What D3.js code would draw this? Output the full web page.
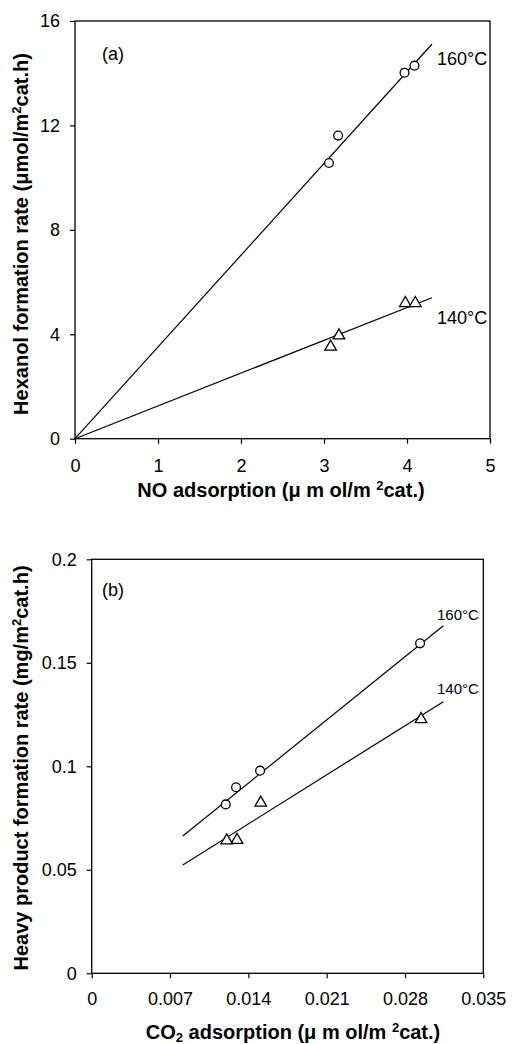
<!DOCTYPE html>
<html><head><meta charset="utf-8">
<script src="https://cdn.jsdelivr.net/npm/d3@7"></script>
<style>body{margin:0;background:#fff}svg{display:block}text{font-family:"Liberation Sans",Arial,sans-serif;fill:#000}</style>
</head><body><svg id="c" width="512" height="1044"></svg>
<script>
// Panel (a): NO adsorption vs hexanol formation rate
const aX160 = [3.06, 3.17, 3.97, 4.09];
const aY160 = [10.56, 11.61, 14.02, 14.29];
const aX140 = [3.08, 3.18, 3.98, 4.10];
const aY140 = [3.52, 3.95, 5.19, 5.19];
const aFit160 = [[0, 0], [4.30, 15.11]];
const aFit140 = [[0, 0], [4.30, 5.40]];
const aXTicks = [0, 1, 2, 3, 4, 5];
const aYTicks = [0, 4, 8, 12, 16];
// Panel (b): CO2 adsorption vs heavy product formation rate
const bX160 = [0.01198, 0.0129, 0.01505, 0.02935];
const bY160 = [0.0816, 0.0899, 0.0979, 0.1594];
const bX140 = [0.01207, 0.01299, 0.01511, 0.02944];
const bY140 = [0.0641, 0.0644, 0.0824, 0.1227];
const bFit160 = [[0.00814, 0.0663], [0.03143, 0.1679]];
const bFit140 = [[0.00814, 0.0523], [0.03143, 0.1312]];
const bXTicks = [0, 0.007, 0.014, 0.021, 0.028, 0.035];
const bYTicks = [0, 0.05, 0.1, 0.15, 0.2];

const svg = d3.select("#c");

function panel(o) {
  const g = svg.append("g");
  const x = d3.scaleLinear().domain(o.xd).range([o.l, o.r]);
  const y = d3.scaleLinear().domain(o.yd).range([o.b, o.t]);
  g.append("g").attr("transform", `translate(0,${o.b})`)
    .call(d3.axisBottom(x).tickValues(o.xt).tickSize(5).tickPadding(o.xpad).tickFormat(o.xf))
    .call(s => { s.select(".domain").remove(); s.selectAll("line").attr("stroke-width", 1.2); s.selectAll("text").style("font-size", o.fs + "px").style("font-family", "Liberation Sans, Arial"); });
  g.append("g").attr("transform", `translate(${o.l},0)`)
    .call(d3.axisLeft(y).tickValues(o.yt).tickSize(5).tickPadding(10).tickFormat(o.yf))
    .call(s => { s.select(".domain").remove(); s.selectAll("line").attr("stroke-width", 1.2); s.selectAll("text").style("font-size", o.fs + "px").style("font-family", "Liberation Sans, Arial"); });
  g.append("rect").attr("x", o.l).attr("y", o.t).attr("width", o.r - o.l).attr("height", o.b - o.t)
    .attr("fill", "none").attr("stroke", "#000").attr("stroke-width", 1.3);
  const line = d3.line().x(d => x(d[0])).y(d => y(d[1]));
  [o.f160, o.f140].forEach(f => g.append("path").attr("d", line(f)).attr("stroke", "#000").attr("stroke-width", 1.2).attr("fill", "none"));
  const circ = d3.range(o.x160.length).map(i => [o.x160[i], o.y160[i]]);
  const tri = d3.range(o.x140.length).map(i => [o.x140[i], o.y140[i]]);
  g.selectAll(".c").data(circ).join("circle").attr("cx", d => x(d[0])).attr("cy", d => y(d[1])).attr("r", 4.4)
    .attr("fill", "#fff").attr("stroke", "#000").attr("stroke-width", 1.3);
  const ts = d3.symbol().type(d3.symbolTriangle).size(58);
  g.selectAll(".t").data(tri).join("path").attr("d", ts).attr("transform", d => `translate(${x(d[0])},${y(d[1])})`)
    .attr("fill", "#fff").attr("stroke", "#000").attr("stroke-width", 1.3);
  g.append("text").attr("x", 102).attr("y", o.lab[0]).style("font-size", "18px").text(o.name);
  g.append("text").attr("x", o.lab[1]).attr("y", o.lab[2]).style("font-size", o.lfs + "px").text("160°C");
  g.append("text").attr("x", o.lab[1]).attr("y", o.lab[3]).style("font-size", o.lfs + "px").text("140°C");
  // axis titles
  const xt = g.append("text").attr("x", o.xtx).attr("y", o.xty).attr("text-anchor", "middle")
    .style("font-size", "20px").style("font-weight", "bold");
  o.xtitle(xt);
  const yt = g.append("text").attr("transform", `translate(${o.ytx},${o.yty}) rotate(-90)`).attr("text-anchor", "middle")
    .style("font-size", "20px").style("font-weight", "bold");
  o.ytitle(yt);
}

panel({
  l: 75, r: 490, t: 21, b: 438.7, xd: [0, 5], yd: [0, 16], xt: aXTicks, yt: aYTicks,
  xf: d3.format("d"), yf: d3.format("d"), fs: 18, xpad: 16,
  x160: aX160, y160: aY160, x140: aX140, y140: aY140, f160: aFit160, f140: aFit140,
  name: "(a)", lab: [60, 437, 65, 324], lfs: 18,
  xtx: 281, xty: 497, ytx: 28, yty: 234,
  xtitle: t => { t.append("tspan").text("NO adsorption (μ m ol/m "); t.append("tspan").attr("dy", -7).style("font-size", "13px").text("2"); t.append("tspan").attr("dy", 7).text("cat.)"); },
  ytitle: t => { t.append("tspan").text("Hexanol formation rate (μmol/m"); t.append("tspan").attr("dy", -7).style("font-size", "13px").text("2"); t.append("tspan").attr("dy", 7).text("cat.h)"); }
});

panel({
  l: 91.7, r: 483.3, t: 559.3, b: 973.3, xd: [0, 0.035], yd: [0, 0.2], xt: bXTicks, yt: bYTicks,
  xf: d => d === 0 ? "0" : d3.format(".3f")(d), yf: d => d === 0 ? "0" : String(+d.toFixed(2)), fs: 18, xpad: 14,
  x160: bX160, y160: bY160, x140: bX140, y140: bY140, f160: bFit160, f140: bFit140,
  name: "(b)", lab: [596, 437, 620, 694], lfs: 15,
  xtx: 293, xty: 1039, ytx: 28, yty: 768,
  xtitle: t => { t.append("tspan").text("CO"); t.append("tspan").attr("dy", 3).style("font-size", "13px").text("2"); t.append("tspan").attr("dy", -3).text(" adsorption (μ m ol/m "); t.append("tspan").attr("dy", -7).style("font-size", "13px").text("2"); t.append("tspan").attr("dy", 7).text("cat.)"); },
  ytitle: t => { t.append("tspan").text("Heavy product formation rate (mg/m"); t.append("tspan").attr("dy", -7).style("font-size", "13px").text("2"); t.append("tspan").attr("dy", 7).text("cat.h)"); }
});
</script></body></html>
